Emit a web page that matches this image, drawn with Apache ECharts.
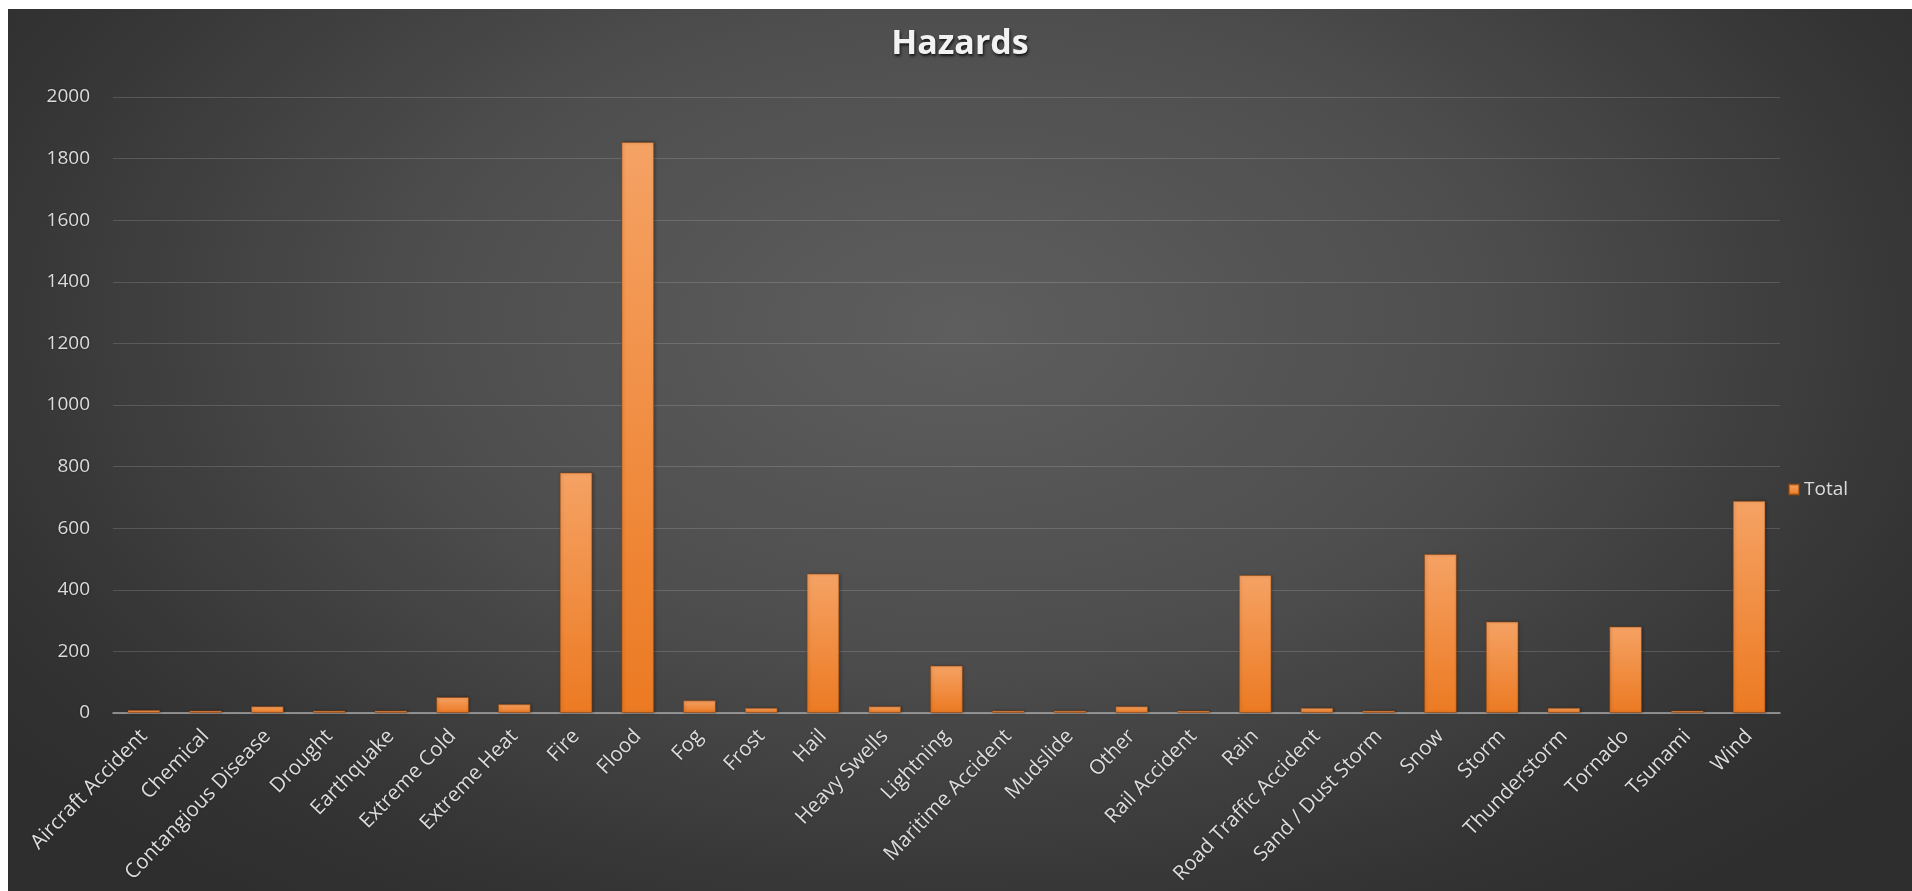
<!DOCTYPE html>
<html>
<head>
<meta charset="utf-8">
<title>Hazards</title>
<script src="https://cdn.jsdelivr.net/npm/echarts@6/dist/echarts.min.js"></script>
<style>
  html, body { margin: 0; padding: 0; background: #ffffff; width: 1912px; height: 891px; overflow: hidden; }
  #chart {
    position: absolute; left: 8px; top: 9px; width: 1904px; height: 882px;
    background: radial-gradient(ellipse 62% 80% at 50% 36%, #5e5e5e 0%, #4e4e4e 45%, #343434 85%, #2e2e2e 100%);
  }
</style>
</head>
<body>
<div id="chart"></div>
<script>
// Hazard categories and their reported totals
const categories = [
  'Aircraft Accident', 'Chemical', 'Contangious Disease', 'Drought', 'Earthquake',
  'Extreme Cold', 'Extreme Heat', 'Fire', 'Flood', 'Fog', 'Frost', 'Hail',
  'Heavy Swells', 'Lightning', 'Maritime Accident', 'Mudslide', 'Other',
  'Rail Accident', 'Rain', 'Road Traffic Accident', 'Sand / Dust Storm', 'Snow',
  'Storm', 'Thunderstorm', 'Tornado', 'Tsunami', 'Wind'
];
const totals = [
  10, 8, 22, 8, 8,
  52, 29, 781, 1854, 41, 17, 453,
  22, 154, 8, 8, 22,
  8, 448, 17, 8, 516,
  297, 17, 281, 8, 689
];
const seriesName = 'Total';
const chartTitle = 'Hazards';

const chart = echarts.init(document.getElementById('chart'), null, { renderer: 'canvas' });

const labelColor = '#dcdcdc';
const fontFamily = '"Open Sans", "Noto Sans", sans-serif';

chart.setOption({
  backgroundColor: 'transparent',
  animation: false,
  title: {
    text: chartTitle,
    left: 'center',
    top: 13,
    textStyle: {
      color: '#f2f2f2',
      fontSize: 34,
      fontWeight: 'bold',
      fontFamily: fontFamily,
      textShadowColor: 'rgba(0,0,0,0.75)',
      textShadowBlur: 3,
      textShadowOffsetX: 1,
      textShadowOffsetY: 2
    }
  },
  legend: {
    data: [seriesName],
    left: 1775,
    top: 466,
    orient: 'vertical',
    icon: 'rect',
    itemWidth: 10,
    itemHeight: 10,
    itemGap: 8,
    textStyle: {
      color: labelColor,
      fontSize: 19,
      fontFamily: fontFamily
    }
  },
  grid: {
    left: 105,
    right: 132,
    top: 88,
    bottom: 178,
    containLabel: false
  },
  xAxis: {
    type: 'category',
    data: categories,
    axisLine: { show: true, lineStyle: { color: '#a6a6a6', width: 1.5 } },
    axisTick: { show: false },
    axisLabel: {
      interval: 0,
      rotate: 46,
      margin: 20,
      color: labelColor,
      fontSize: 20.5,
      fontFamily: fontFamily,
      textShadowColor: 'rgba(0,0,0,0.4)',
      textShadowBlur: 2
    }
  },
  yAxis: {
    type: 'value',
    min: 0,
    max: 2000,
    interval: 200,
    axisLine: { show: false },
    axisTick: { show: false },
    splitLine: { show: true, lineStyle: { color: 'rgba(255,255,255,0.15)', width: 1 } },
    axisLabel: {
      margin: 23,
      color: labelColor,
      fontSize: 19,
      fontFamily: fontFamily,
      formatter: function (v) { return String(v); },
      textShadowColor: 'rgba(0,0,0,0.4)',
      textShadowBlur: 2
    }
  },
  series: [{
    name: seriesName,
    type: 'bar',
    data: totals,
    barCategoryGap: '47%',
    itemStyle: {
      color: new echarts.graphic.LinearGradient(0, 0, 0, 1, [
        { offset: 0, color: '#f5a264' },
        { offset: 1, color: '#ec7a22' }
      ]),
      borderColor: 'rgba(150,70,10,0.55)',
      borderWidth: 1,
      shadowColor: 'rgba(0,0,0,0.35)',
      shadowBlur: 3,
      shadowOffsetX: 1,
      shadowOffsetY: 0
    }
  }]
});
</script>
</body>
</html>
